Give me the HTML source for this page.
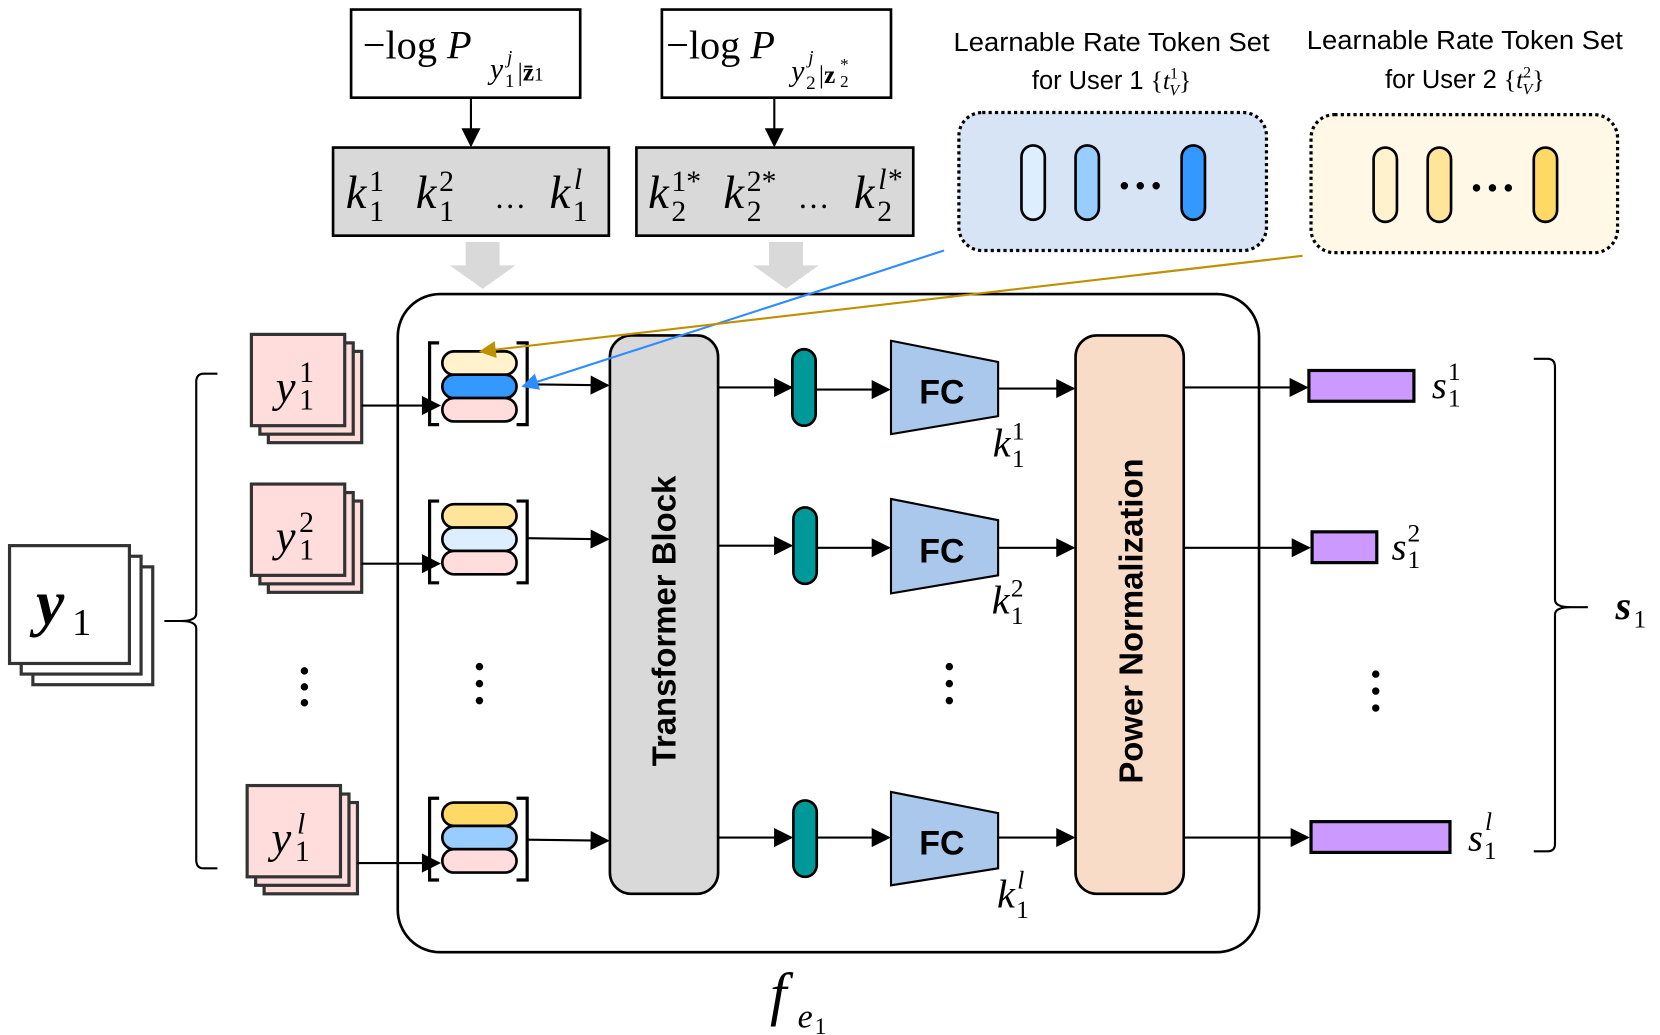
<!DOCTYPE html>
<html><head><meta charset="utf-8"><style>
html,body{margin:0;padding:0;background:#fff;}
svg{display:block;}
.m{font-family:"Liberation Serif",serif;font-style:italic;}
.s{font-family:"Liberation Sans",sans-serif;}
</style></head><body>
<svg width="1660" height="1035" viewBox="0 0 1565 975" preserveAspectRatio="none" xmlns="http://www.w3.org/2000/svg">
<defs>
<marker id="ab" viewBox="0 0 10 10" markerWidth="20" markerHeight="18" refX="9" refY="5" orient="auto" markerUnits="userSpaceOnUse"><path d="M0,0 L10,5 L0,10z" fill="#000"/></marker>
<marker id="bl" viewBox="0 0 10 10" markerWidth="20" markerHeight="16" refX="9" refY="5" orient="auto" markerUnits="userSpaceOnUse"><path d="M0,0 L10,5 L0,10z" fill="#2f8cff"/></marker>
<marker id="gd" viewBox="0 0 10 10" markerWidth="20" markerHeight="16" refX="9" refY="5" orient="auto" markerUnits="userSpaceOnUse"><path d="M0,0 L10,5 L0,10z" fill="#bf9000"/></marker>
</defs>

<!-- top boxes -->
<rect x="331" y="9" width="216" height="83" fill="#fff" stroke="#000" stroke-width="2.5"/>
<text x="342" y="55" font-family="Liberation Serif" font-size="38">−log <tspan font-style="italic">P</tspan></text>
<text x="462" y="74" class="m" font-size="28">y</text><text x="476" y="82" font-family="Liberation Serif" font-size="18">1</text><text x="478" y="60" class="m" font-size="18">j</text><text x="488" y="76" font-family="Liberation Serif" font-size="24">|<tspan font-weight="bold">z̄</tspan><tspan font-size="18">1</tspan></text>

<rect x="624" y="9" width="216" height="83" fill="#fff" stroke="#000" stroke-width="2.5"/>
<text x="628" y="55" font-family="Liberation Serif" font-size="38">−log <tspan font-style="italic">P</tspan></text>
<text x="746" y="76" class="m" font-size="28">y</text><text x="760" y="84" font-family="Liberation Serif" font-size="18">2</text><text x="762" y="60" class="m" font-size="18">j</text><text x="772" y="78" font-family="Liberation Serif" font-size="24">|<tspan font-weight="bold">z</tspan></text><text x="792" y="66" font-family="Liberation Serif" font-size="16">*</text><text x="792" y="82" font-family="Liberation Serif" font-size="16">2</text>

<line x1="444" y1="92" x2="444" y2="137" stroke="#000" stroke-width="2" marker-end="url(#ab)"/>
<line x1="730" y1="92" x2="730" y2="137" stroke="#000" stroke-width="2" marker-end="url(#ab)"/>

<rect x="314" y="139" width="260" height="83" fill="#d9d9d9" stroke="#000" stroke-width="2.5"/>
<text x="326" y="196" class="m" font-size="44">k</text><text x="348" y="180" font-family="Liberation Serif" font-size="28">1</text><text x="348" y="208" font-family="Liberation Serif" font-size="28">1</text>
<text x="392" y="196" class="m" font-size="44">k</text><text x="414" y="180" font-family="Liberation Serif" font-size="28">2</text><text x="414" y="208" font-family="Liberation Serif" font-size="28">1</text>
<text x="466" y="196" font-family="Liberation Serif" font-size="30">…</text>
<text x="518" y="196" class="m" font-size="44">k</text><text x="541" y="178" class="m" font-size="28">l</text><text x="540" y="208" font-family="Liberation Serif" font-size="28">1</text>

<rect x="600" y="139" width="261" height="83" fill="#d9d9d9" stroke="#000" stroke-width="2.5"/>
<text x="611" y="196" class="m" font-size="44">k</text><text x="633" y="180" font-family="Liberation Serif" font-size="28">1*</text><text x="633" y="208" font-family="Liberation Serif" font-size="28">2</text>
<text x="682" y="196" class="m" font-size="44">k</text><text x="704" y="180" font-family="Liberation Serif" font-size="28">2*</text><text x="704" y="208" font-family="Liberation Serif" font-size="28">2</text>
<text x="752" y="196" font-family="Liberation Serif" font-size="30">…</text>
<text x="805" y="196" class="m" font-size="44">k</text><text x="828" y="178" class="m" font-size="28">l*</text><text x="827" y="208" font-family="Liberation Serif" font-size="28">2</text>

<!-- gray fat arrows -->
<path d="M439,228 H471 V250 H486 L455,272 L424,250 H439Z" fill="#d9d9d9"/>
<path d="M725,228 H757 V250 H772 L741,272 L710,250 H725Z" fill="#d9d9d9"/>

<!-- token sets -->
<text x="1048" y="48" text-anchor="middle" class="s" font-size="24" textLength="298" lengthAdjust="spacingAndGlyphs">Learnable Rate Token Set</text>
<text x="1048" y="84" text-anchor="middle" class="s" font-size="24">for User 1 <tspan font-family="Liberation Serif">{</tspan><tspan class="m">t</tspan><tspan font-family="Liberation Serif" font-size="15" dy="-10">1</tspan><tspan font-family="Liberation Serif" font-size="15" dx="-8" dy="16" font-style="italic">V</tspan><tspan font-family="Liberation Serif" dy="-6">}</tspan></text>
<text x="1381" y="46" text-anchor="middle" class="s" font-size="24" textLength="298" lengthAdjust="spacingAndGlyphs">Learnable Rate Token Set</text>
<text x="1381" y="83" text-anchor="middle" class="s" font-size="24">for User 2 <tspan font-family="Liberation Serif">{</tspan><tspan class="m">t</tspan><tspan font-family="Liberation Serif" font-size="15" dy="-10">2</tspan><tspan font-family="Liberation Serif" font-size="15" dx="-8" dy="16" font-style="italic">V</tspan><tspan font-family="Liberation Serif" dy="-6">}</tspan></text>

<rect x="904" y="106" width="290" height="130" rx="22" fill="#d6e4f5" stroke="#000" stroke-width="3" stroke-dasharray="3,3"/>
<rect x="963" y="137" width="22" height="70" rx="11" fill="#ddeeff" stroke="#000" stroke-width="2.5"/>
<rect x="1014" y="137" width="22" height="70" rx="11" fill="#99ccff" stroke="#000" stroke-width="2.5"/>
<circle cx="1060" cy="175" r="3.5"/><circle cx="1075" cy="175" r="3.5"/><circle cx="1090" cy="175" r="3.5"/>
<rect x="1114" y="137" width="22" height="70" rx="11" fill="#3399ff" stroke="#000" stroke-width="2.5"/>

<rect x="1236" y="108" width="289" height="130" rx="22" fill="#fff8e6" stroke="#000" stroke-width="3" stroke-dasharray="3,3"/>
<rect x="1295" y="139" width="22" height="70" rx="11" fill="#fff2cc" stroke="#000" stroke-width="2.5"/>
<rect x="1346" y="139" width="22" height="70" rx="11" fill="#ffe599" stroke="#000" stroke-width="2.5"/>
<circle cx="1392" cy="177" r="3.5"/><circle cx="1407" cy="177" r="3.5"/><circle cx="1422" cy="177" r="3.5"/>
<rect x="1446" y="139" width="22" height="70" rx="11" fill="#ffd966" stroke="#000" stroke-width="2.5"/>

<!-- main container -->
<rect x="375" y="277" width="812" height="620" rx="40" fill="none" stroke="#000" stroke-width="2.5"/>

<!-- left brace and y1 -->
<path d="M205,352 H192 Q185,352 185,360 V578 Q185,585 170,585 H155 M170,585 Q185,585 185,592 V810 Q185,818 192,818 H205" fill="none" stroke="#000" stroke-width="2"/>
<rect x="31" y="534" width="113" height="111" fill="#fff" stroke="#333" stroke-width="3"/>
<rect x="20" y="524" width="113" height="111" fill="#fff" stroke="#333" stroke-width="3"/>
<rect x="9" y="514" width="113" height="111" fill="#fff" stroke="#333" stroke-width="3"/>
<text x="34" y="588" class="m" font-size="60" font-weight="bold">y</text><text x="68" y="598" font-family="Liberation Serif" font-size="36">1</text>

<!-- rows -->
<g stroke-width="3" stroke="#333" fill="#ffdddd">
<rect x="253" y="331" width="88" height="86"/><rect x="245" y="323" width="88" height="86"/><rect x="237" y="315" width="88" height="86"/>
<rect x="253" y="472" width="88" height="86"/><rect x="245" y="464" width="88" height="86"/><rect x="237" y="456" width="88" height="86"/>
<rect x="249" y="756" width="88" height="86"/><rect x="241" y="748" width="88" height="86"/><rect x="233" y="740" width="88" height="86"/>
</g>
<g class="m" font-size="42">
<text x="260" y="378">y</text>
<text x="260" y="519">y</text>
<text x="256" y="803">y</text>
</g>
<g font-family="Liberation Serif" font-size="28">
<text x="282" y="360">1</text><text x="282" y="386">1</text>
<text x="282" y="501">2</text><text x="282" y="527">1</text>
<text x="280" y="785" font-style="italic">l</text><text x="278" y="811">1</text>
</g>

<g stroke="#000" stroke-width="2" fill="none">
<line x1="341" y1="382" x2="414" y2="382" marker-end="url(#ab)"/>
<line x1="341" y1="531" x2="414" y2="531" marker-end="url(#ab)"/>
<line x1="337" y1="813" x2="414" y2="813" marker-end="url(#ab)"/>
</g>

<!-- token groups -->
<g stroke="#000" stroke-width="3" fill="none">
<path d="M414,323 H405 V400 H414 M487,323 H497 V400 H487"/>
<path d="M414,472 H405 V549 H414 M487,472 H497 V549 H487"/>
<path d="M414,752 H405 V829 H414 M487,752 H497 V829 H487"/>
</g>
<g stroke="#000" stroke-width="2.5">
<rect x="417" y="331" width="70" height="22" rx="11" fill="#fff2cc"/><rect x="417" y="353" width="70" height="22" rx="11" fill="#3399ff"/><rect x="417" y="375" width="70" height="22" rx="11" fill="#ffdddd"/>
<rect x="417" y="475" width="70" height="22" rx="11" fill="#ffe599"/><rect x="417" y="497" width="70" height="22" rx="11" fill="#ddeeff"/><rect x="417" y="519" width="70" height="22" rx="11" fill="#ffdddd"/>
<rect x="417" y="756" width="70" height="22" rx="11" fill="#ffd966"/><rect x="417" y="778" width="70" height="22" rx="11" fill="#99ccff"/><rect x="417" y="800" width="70" height="22" rx="11" fill="#ffdddd"/>
</g>

<g stroke="#000" stroke-width="2" fill="none">
<line x1="497" y1="362" x2="573" y2="363" marker-end="url(#ab)"/>
<line x1="497" y1="507" x2="573" y2="508" marker-end="url(#ab)"/>
<line x1="497" y1="791" x2="573" y2="792" marker-end="url(#ab)"/>
</g>

<!-- transformer -->
<rect x="575" y="316" width="102" height="526" rx="20" fill="#d9d9d9" stroke="#000" stroke-width="2.5"/>
<text transform="translate(637,585) rotate(-90)" text-anchor="middle" class="s" font-size="31" font-weight="bold">Transformer Block</text>

<g stroke="#000" stroke-width="2" fill="none">
<line x1="677" y1="365" x2="746" y2="365" marker-end="url(#ab)"/>
<line x1="677" y1="514" x2="746" y2="514" marker-end="url(#ab)"/>
<line x1="677" y1="789" x2="746" y2="789" marker-end="url(#ab)"/>
<line x1="770" y1="367" x2="838" y2="367" marker-end="url(#ab)"/>
<line x1="770" y1="516" x2="838" y2="516" marker-end="url(#ab)"/>
<line x1="770" y1="789" x2="838" y2="789" marker-end="url(#ab)"/>
<line x1="941" y1="366" x2="1012" y2="366" marker-end="url(#ab)"/>
<line x1="941" y1="516" x2="1012" y2="516" marker-end="url(#ab)"/>
<line x1="941" y1="789" x2="1012" y2="789" marker-end="url(#ab)"/>
<line x1="1116" y1="365" x2="1232" y2="365" marker-end="url(#ab)"/>
<line x1="1116" y1="516" x2="1234" y2="516" marker-end="url(#ab)"/>
<line x1="1116" y1="789" x2="1233" y2="789" marker-end="url(#ab)"/>
</g>
<g fill="#009999" stroke="#000" stroke-width="2.5">
<rect x="747" y="329" width="22" height="72" rx="11"/>
<rect x="748" y="478" width="22" height="72" rx="11"/>
<rect x="748" y="754" width="22" height="72" rx="11"/>
</g>
<g fill="#a9c8ec" stroke="#000" stroke-width="2">
<path d="M840,321 L941,341 V392 L840,409Z"/>
<path d="M840,470 L941,490 V542 L840,559Z"/>
<path d="M840,746 L941,766 V818 L840,834Z"/>
</g>
<g class="s" font-size="32" font-weight="bold" text-anchor="middle">
<text x="888" y="380">FC</text><text x="888" y="530">FC</text><text x="888" y="805">FC</text>
</g>
<g>
<text x="936" y="430" class="m" font-size="38">k</text><text x="954" y="414" font-family="Liberation Serif" font-size="24">1</text><text x="954" y="440" font-family="Liberation Serif" font-size="24">1</text>
<text x="935" y="578" class="m" font-size="38">k</text><text x="953" y="562" font-family="Liberation Serif" font-size="24">2</text><text x="953" y="588" font-family="Liberation Serif" font-size="24">1</text>
<text x="940" y="855" class="m" font-size="38">k</text><text x="959" y="837" class="m" font-size="24">l</text><text x="958" y="865" font-family="Liberation Serif" font-size="24">1</text>
</g>

<rect x="1014" y="316" width="102" height="526" rx="20" fill="#f8dcc8" stroke="#000" stroke-width="2.5"/>
<text transform="translate(1077,585) rotate(-90)" text-anchor="middle" class="s" font-size="31" font-weight="bold">Power Normalization</text>

<g fill="#cc99ff" stroke="#000" stroke-width="3">
<rect x="1234" y="349" width="99" height="29"/>
<rect x="1237" y="501" width="61" height="29"/>
<rect x="1236" y="774" width="131" height="29"/>
</g>
<g>
<text x="1350" y="375" class="m" font-size="36">s</text><text x="1365" y="358" font-family="Liberation Serif" font-size="24">1</text><text x="1365" y="383" font-family="Liberation Serif" font-size="24">1</text>
<text x="1312" y="527" class="m" font-size="36">s</text><text x="1327" y="510" font-family="Liberation Serif" font-size="24">2</text><text x="1327" y="535" font-family="Liberation Serif" font-size="24">1</text>
<text x="1384" y="801" class="m" font-size="36">s</text><text x="1400" y="782" class="m" font-size="24">l</text><text x="1399" y="809" font-family="Liberation Serif" font-size="24">1</text>
</g>

<!-- vertical dots -->
<g fill="#000">
<circle cx="287" cy="632" r="3.5"/><circle cx="287" cy="647" r="3.5"/><circle cx="287" cy="662" r="3.5"/>
<circle cx="452" cy="628" r="3.5"/><circle cx="452" cy="644" r="3.5"/><circle cx="452" cy="660" r="3.5"/>
<circle cx="895" cy="628" r="3.5"/><circle cx="895" cy="644" r="3.5"/><circle cx="895" cy="660" r="3.5"/>
<circle cx="1297" cy="635" r="3.5"/><circle cx="1297" cy="651" r="3.5"/><circle cx="1297" cy="667" r="3.5"/>
</g>

<!-- right brace -->
<path d="M1446,338 H1459 Q1466,338 1466,346 V565 Q1466,572 1481,572 H1497 M1481,572 Q1466,572 1466,579 V795 Q1466,802 1459,802 H1446" fill="none" stroke="#000" stroke-width="2"/>
<text x="1523" y="583" class="m" font-size="38" font-weight="bold">s</text><text x="1540" y="591" font-family="Liberation Serif" font-size="24">1</text>

<!-- f_e1 -->
<text x="726" y="955" class="m" font-size="56">f</text><text x="752" y="968" class="m" font-size="32">e</text><text x="768" y="974" font-family="Liberation Serif" font-size="22">1</text>

<!-- colored connectors -->
<line x1="890" y1="236" x2="493" y2="364" stroke="#2f8cff" stroke-width="2" marker-end="url(#bl)"/>
<line x1="1228" y1="241" x2="453" y2="331" stroke="#bf9000" stroke-width="2" marker-end="url(#gd)"/>
</svg>
</body></html>
